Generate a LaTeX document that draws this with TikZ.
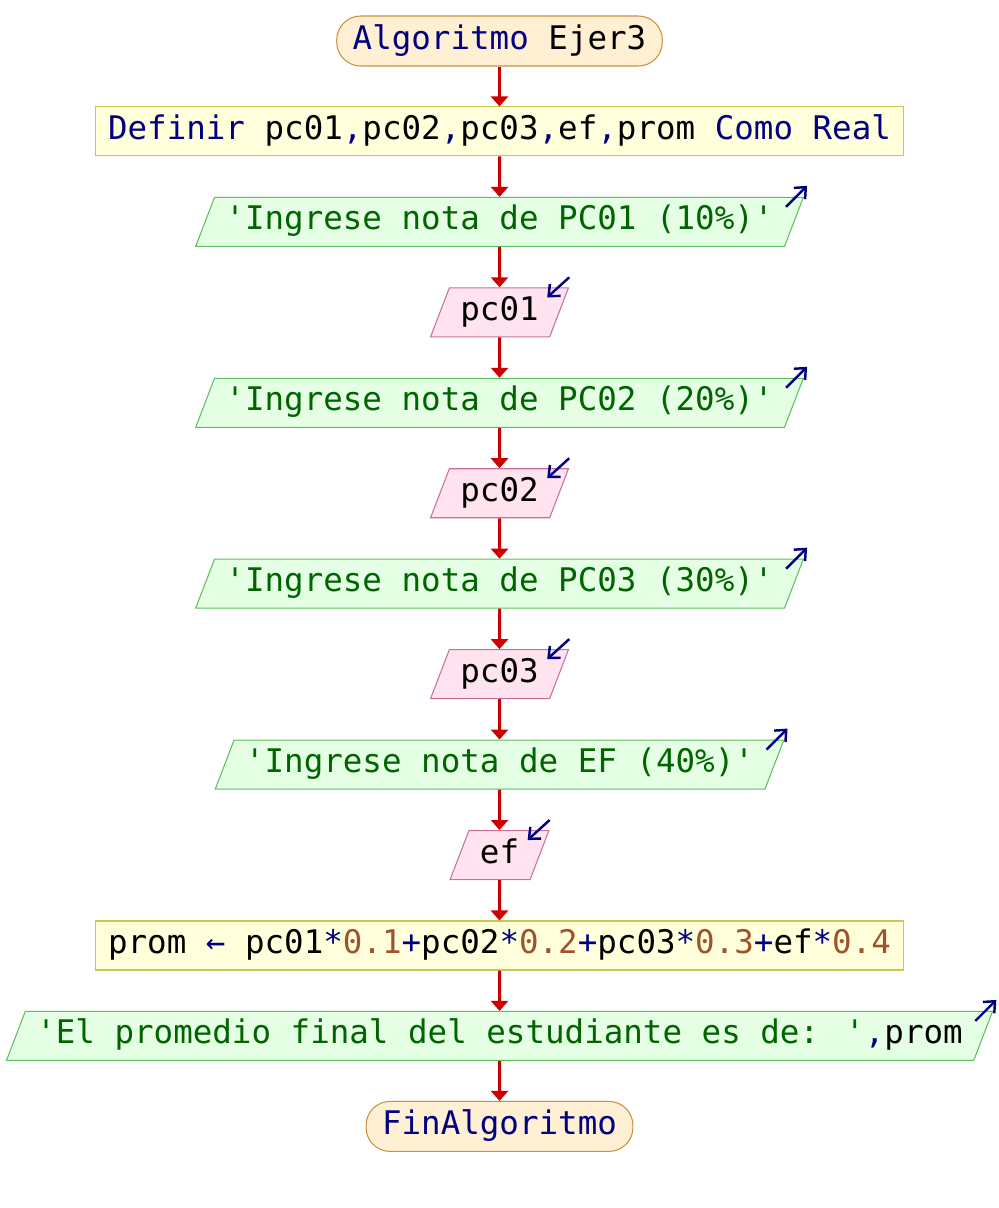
\documentclass[tikz,border=0pt]{standalone}
\usepackage{fontspec}
\setmainfont{DejaVu Sans Mono}
\usetikzlibrary{shapes.geometric,arrows.meta,positioning}

\definecolor{kwcol}{HTML}{000080}
\definecolor{strcol}{HTML}{006400}
\definecolor{numcol}{HTML}{A0522D}
\definecolor{flowred}{HTML}{CC0000}
\definecolor{termfill}{HTML}{FFF0D4}
\definecolor{termline}{HTML}{C8913C}
\definecolor{blockfill}{HTML}{FFFFDC}
\definecolor{blockline}{HTML}{C8C850}
\definecolor{outfill}{HTML}{E5FFE5}
\definecolor{outline}{HTML}{5DC05D}
\definecolor{infill}{HTML}{FFE4F0}
\definecolor{inline}{HTML}{C8709A}

\newcommand{\kwd}[1]{\textcolor{kwcol}{#1}}
\newcommand{\strg}[1]{\textcolor{strcol}{\textquotesingle#1\textquotesingle}}
\newcommand{\numb}[1]{\textcolor{numcol}{#1}}

\begin{document}
\begin{tikzpicture}[node distance = 1.809cm, auto, font=\fontsize{18.5}{22}\selectfont]
  \tikzstyle{terminator} = [rectangle, rounded corners=0.48cm, draw=termline, fill=termfill,
    line width=0.6pt, inner xsep=0.32cm, inner ysep=0.21cm, text height=0.45cm, text depth=0.13cm]
  \tikzstyle{block} = [rectangle, draw=blockline, fill=blockfill, line width=0.6pt,
    inner xsep=0.25cm, inner ysep=0.2cm, text height=0.45cm, text depth=0.13cm]
  \tikzstyle{iobox} = [trapezium, trapezium left angle=69, trapezium right angle=111,
    line width=0.6pt, inner xsep=0.22cm, inner ysep=0.2cm, text height=0.45cm, text depth=0.13cm]
  \tikzstyle{output} = [iobox, draw=outline, fill=outfill]
  \tikzstyle{input} = [iobox, draw=inline, fill=infill]
  \tikzstyle{line} = [draw=flowred, line width=1.7pt, -{Triangle[width=0.34cm, length=0.2cm]}]
  \tikzstyle{outmark} = [draw=kwcol, line width=1.4pt, -{Straight Barb[length=0.18cm, width=0.32cm]}]
  \tikzstyle{inmark} = [outmark]

  \useasboundingbox (0,0) rectangle (19.98,-24.16);

  % Place nodes
  \node [terminator] (start) at (9.99,-0.82) {\kwd{Algoritmo} Ejer3};
  \node [block, below of=start] (define) {\kwd{Definir} pc01\kwd{,}pc02\kwd{,}pc03\kwd{,}ef\kwd{,}prom \kwd{Como Real}};
  \node [output, below of=define] (ask1) {\strg{Ingrese nota de PC01 (10\%)}};
  \node [input, below of=ask1] (read1) {pc01};
  \node [output, below of=read1] (ask2) {\strg{Ingrese nota de PC02 (20\%)}};
  \node [input, below of=ask2] (read2) {pc02};
  \node [output, below of=read2] (ask3) {\strg{Ingrese nota de PC03 (30\%)}};
  \node [input, below of=ask3] (read3) {pc03};
  \node [output, below of=read3] (ask4) {\strg{Ingrese nota de EF (40\%)}};
  \node [input, below of=ask4] (read4) {ef};
  \node [block, below of=read4] (calc) {prom \kwd{←} pc01\kwd{*}\numb{0.1}\kwd{+}pc02\kwd{*}\numb{0.2}\kwd{+}pc03\kwd{*}\numb{0.3}\kwd{+}ef\kwd{*}\numb{0.4}};
  \node [output, below of=calc] (show) {\strg{El promedio final del estudiante es de: }\kwd{,}prom};
  \node [terminator, below of=show] (stop) {\kwd{FinAlgoritmo}};

  % Draw edges
  \path [line] (start) -- (define);
  \path [line] (define) -- (ask1);
  \path [line] (ask1) -- (read1);
  \path [line] (read1) -- (ask2);
  \path [line] (ask2) -- (read2);
  \path [line] (read2) -- (ask3);
  \path [line] (ask3) -- (read3);
  \path [line] (read3) -- (ask4);
  \path [line] (ask4) -- (read4);
  \path [line] (read4) -- (calc);
  \path [line] (calc) -- (show);
  \path [line] (show) -- (stop);

  % In/out marks
  \foreach \io in {ask1,ask2,ask3,ask4,show}
    \draw [outmark] ([shift={(-0.36,-0.2)}]\io.top right corner) -- ++(0.42,0.42);
  \foreach \io in {read1,read2,read3,read4}
    \draw [inmark] ([shift={(0,0.2)}]\io.top right corner) -- ++(-0.44,-0.4);

\end{tikzpicture}
\end{document}
